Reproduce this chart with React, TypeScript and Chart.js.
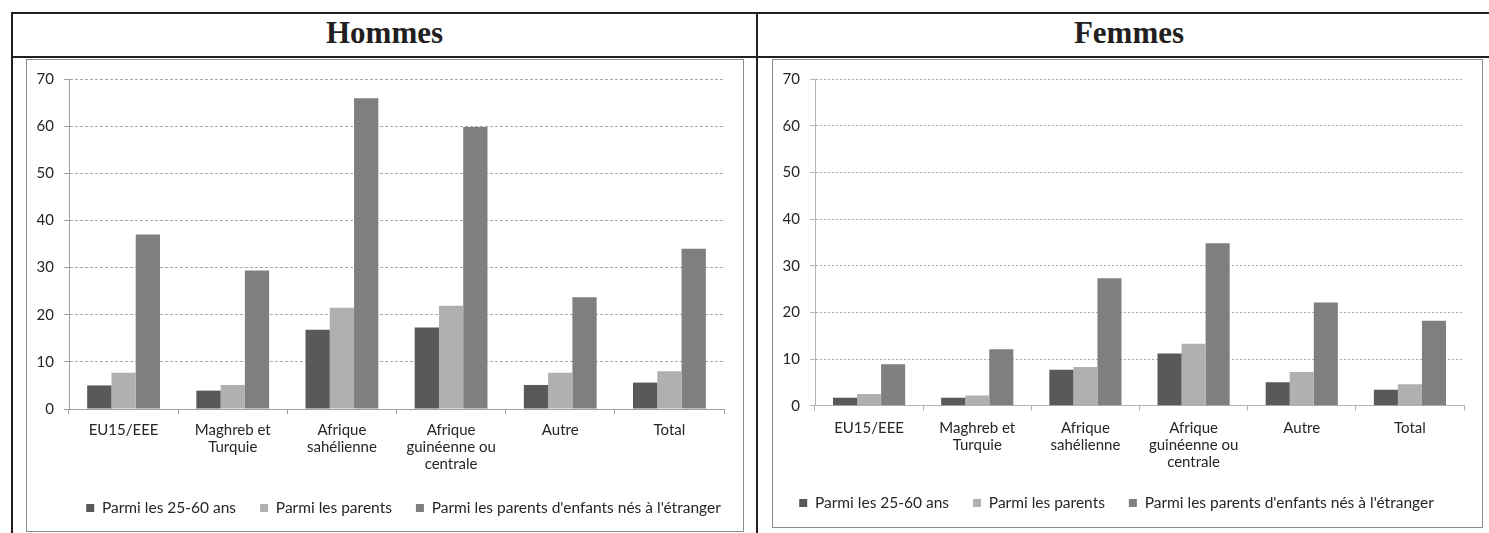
import React, { useEffect, useRef } from "react";
import { Chart, registerables } from "chart.js";

Chart.register(...registerables);

// ---- Data ----
const categories: string[][] = [
  ["EU15/EEE"],
  ["Maghreb et", "Turquie"],
  ["Afrique", "sahélienne"],
  ["Afrique", "guinéenne ou", "centrale"],
  ["Autre"],
  ["Total"],
];
const seriesLabels = [
  "Parmi les 25-60 ans",
  "Parmi les parents",
  "Parmi les parents d'enfants nés à l'étranger",
];
const hommes2560 = [5.0, 3.9, 16.8, 17.3, 5.1, 5.6];
const hommesParents = [7.7, 5.1, 21.5, 21.9, 7.7, 8.0];
const hommesEtranger = [37.0, 29.4, 65.9, 59.8, 23.7, 34.0];
const femmes2560 = [1.7, 1.7, 7.7, 11.2, 5.0, 3.4];
const femmesParents = [2.5, 2.2, 8.3, 13.3, 7.2, 4.6];
const femmesEtranger = [8.9, 12.1, 27.3, 34.8, 22.1, 18.2];
const yMin = 0;
const yMax = 70;
const yStep = 10;
const panelTitles = ["Hommes", "Femmes"];

const seriesColors = ["#595959", "#b0b0b0", "#7f7f7f"];
const FONT = "Lato, 'Liberation Sans', sans-serif";
const TEXT = "#262626";

type Geom = {
  padT: number;
  padR: number;
  padB: number;
  yW: number;
  xH: number;
  xPad: number;
  dash: number[];
  axisColor: string;
  legendDx: number;
};

function makeConfig(values: number[][], g: Geom): any {
  const legendShift = {
    id: "legendShift",
    afterLayout(chart: any) {
      const l = chart.legend;
      if (l) {
        l.left += g.legendDx;
        l.right += g.legendDx;
      }
    },
  };
  return {
    type: "bar",
    data: {
      labels: categories,
      datasets: values.map((v, i) => ({
        label: seriesLabels[i],
        data: v,
        backgroundColor: seriesColors[i],
        borderWidth: 0,
      })),
    },
    plugins: [legendShift],
    options: {
      responsive: false,
      animation: false,
      events: [],
      layout: { padding: { left: 0, right: g.padR, top: g.padT, bottom: g.padB } },
      datasets: { bar: { categoryPercentage: 0.667, barPercentage: 1 } },
      scales: {
        x: {
          grid: {
            offset: true,
            drawOnChartArea: false,
            drawTicks: true,
            tickLength: 5,
            color: g.axisColor,
          },
          border: { color: g.axisColor, width: 1 },
          ticks: {
            padding: g.xPad,
            color: TEXT,
            font: { family: FONT, size: 15, lineHeight: 1.15 },
            maxRotation: 0,
            autoSkip: false,
          },
          afterFit: (s: any) => {
            s.height = g.xH;
          },
        },
        y: {
          min: yMin,
          max: yMax,
          ticks: {
            stepSize: yStep,
            padding: 10,
            color: TEXT,
            font: { family: FONT, size: 15 },
          },
          grid: {
            color: "#a8a8a8",
            tickLength: 5,
            tickColor: g.axisColor,
          },
          border: { color: g.axisColor, width: 1, dash: g.dash },
          afterFit: (s: any) => {
            s.width = g.yW;
          },
        },
      },
      plugins: {
        legend: {
          position: "bottom",
          labels: {
            boxWidth: 8,
            boxHeight: 8,
            padding: 24,
            color: TEXT,
            font: { family: FONT, size: 15.5 },
          },
        },
        tooltip: { enabled: false },
        title: { display: false },
      },
    },
  };
}

const LINE = "#231f20";

export default function App() {
  const leftRef = useRef<HTMLCanvasElement>(null);
  const rightRef = useRef<HTMLCanvasElement>(null);

  useEffect(() => {
    const c1 = new Chart(
      leftRef.current as HTMLCanvasElement,
      makeConfig([hommes2560, hommesParents, hommesEtranger], {
        padT: 17.5,
        padR: 19,
        padB: 5.25,
        yW: 42,
        xH: 67.25,
        xPad: 7.4,
        dash: [3, 2],
        axisColor: "#a0a0a0",
        legendDx: 28,
      })
    );
    const c2 = new Chart(
      rightRef.current as HTMLCanvasElement,
      makeConfig([femmes2560, femmesParents, femmesEtranger], {
        padT: 17.3,
        padR: 18,
        padB: 6.25,
        yW: 42,
        xH: 65.55,
        xPad: 8.4,
        dash: [2, 2],
        axisColor: "#b4b4b4",
        legendDx: -2,
      })
    );
    return () => {
      c1.destroy();
      c2.destroy();
    };
  }, []);

  const abs = (s: React.CSSProperties): React.CSSProperties => ({ position: "absolute", ...s });
  const headStyle: React.CSSProperties = {
    top: 17,
    height: 31,
    lineHeight: "31px",
    textAlign: "center",
    fontFamily: "'Liberation Serif', serif",
    fontWeight: "bold",
    fontSize: 31,
    color: LINE,
  };

  return (
    <div style={abs({ left: 0, top: 0, width: 1489, height: 533, overflow: "hidden", background: "#fff" })}>
      {/* table lines */}
      <div style={abs({ left: 11, top: 12, width: 1478, height: 2, background: LINE })} />
      <div style={abs({ left: 11, top: 56, width: 1478, height: 2, background: LINE })} />
      <div style={abs({ left: 11, top: 12, width: 2, height: 521, background: LINE })} />
      <div style={abs({ left: 756, top: 12, width: 2, height: 521, background: LINE })} />
      {/* headers */}
      <div style={abs({ ...headStyle, left: 13, width: 743 })}>{panelTitles[0]}</div>
      <div style={abs({ ...headStyle, left: 758, width: 742 })}>{panelTitles[1]}</div>
      {/* chart boxes */}
      <div style={abs({ left: 26, top: 59, width: 716, height: 471, border: "1px solid #8c8c8c" })}>
        <canvas ref={leftRef} width={716} height={471} style={{ display: "block", width: 716, height: 471 }} />
      </div>
      <div style={abs({ left: 772, top: 59, width: 709, height: 467, border: "1px solid #8c8c8c" })}>
        <canvas ref={rightRef} width={709} height={467} style={{ display: "block", width: 709, height: 467 }} />
      </div>
    </div>
  );
}
